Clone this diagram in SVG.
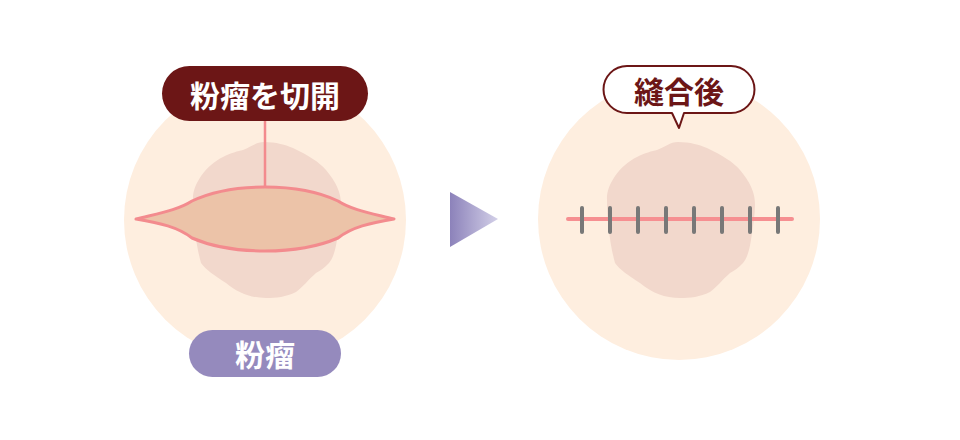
<svg xmlns="http://www.w3.org/2000/svg" width="960" height="440" viewBox="0 0 960 440">
<defs>
<style>
.skin{fill:#feeedf}
.blob{fill:#f2d8cc}
.lbl{font-family:"Noto Sans CJK JP","Noto Sans CJK SC",sans-serif;font-weight:700;font-size:30px;text-anchor:middle;dominant-baseline:central}
.tick{stroke:#787878;stroke-width:4;stroke-linecap:round}
</style>
<linearGradient id="arrowGrad" x1="0" y1="0" x2="1" y2="0">
<stop offset="0" stop-color="#8c82ba"/>
<stop offset="1" stop-color="#d3d0e8"/>
</linearGradient>
<path id="blobShape" d="M607,200 C606,185 620,165 637,157 C645,153 652,151 657,150 C665,147 670,142 678,142 C690,142 700,145 707,148 C722,155 733,162 740,170 C750,182 755,192 755,205 C755,215 753,225 752,233 C750,248 748,257 743,263 C738,268 734,271 730,273 C722,280 716,288 710,292 C700,297 690,298 680,298 C665,298 652,293 640,283 C628,275 620,270 615,263 C610,245 607,220 607,200 Z"/>
</defs>
<rect width="960" height="440" fill="#ffffff"/>

<g id="before">
<circle class="skin" cx="265" cy="220" r="141"/>
<use href="#blobShape" class="blob" transform="translate(-414,0)"/>
<path d="M136,219 C160,213 178,210 192,201 C215,190 240,187 265,187 C290,187 315,190 338,201 C352,210 370,213 394,219 C370,223 352,227 338,238 C315,248 290,251 265,251 C240,251 215,248 192,238 C178,227 160,223 136,219 Z" fill="#ecc3a8" stroke="#f38b8e" stroke-width="3" stroke-linejoin="round"/>
</g>

<g id="connectors">
<line x1="265" y1="120" x2="265" y2="187" stroke="#f38b8e" stroke-width="2.5"/>
<polygon id="arrow" points="450,192 498,219 450,247" fill="url(#arrowGrad)"/>
</g>

<g id="label-incision">
<rect x="162" y="66" width="206" height="55" rx="27.5" fill="#6c1616"/>
<text class="lbl" x="265" y="94" fill="#ffffff">粉瘤を切開</text>
</g>

<g id="label-atheroma">
<rect x="189" y="330" width="152" height="47" rx="23.5" fill="#958abd"/>
<text class="lbl" x="265" y="353" fill="#ffffff">粉瘤</text>
</g>

<g id="after">
<circle class="skin" cx="679" cy="219" r="141"/>
<use href="#blobShape" class="blob"/>
<line x1="568" y1="219" x2="792" y2="219" stroke="#f68f91" stroke-width="4" stroke-linecap="round"/>
<line class="tick" x1="582" y1="208" x2="582" y2="232"/>
<line class="tick" x1="610" y1="208" x2="610" y2="232"/>
<line class="tick" x1="638" y1="208" x2="638" y2="232"/>
<line class="tick" x1="666" y1="208" x2="666" y2="232"/>
<line class="tick" x1="694" y1="208" x2="694" y2="232"/>
<line class="tick" x1="722" y1="208" x2="722" y2="232"/>
<line class="tick" x1="750" y1="208" x2="750" y2="232"/>
<line class="tick" x1="778" y1="208" x2="778" y2="232"/>
</g>

<g id="label-after">
<path d="M627,66 H731 A23.5,23.5 0 0 1 731,113 H684 L679,128 L672,113 H627 A23.5,23.5 0 0 1 627,66 Z" fill="#ffffff" stroke="#6c1616" stroke-width="2" stroke-linejoin="round"/>
<text class="lbl" x="679" y="90" fill="#6c1616">縫合後</text>
</g>
</svg>
